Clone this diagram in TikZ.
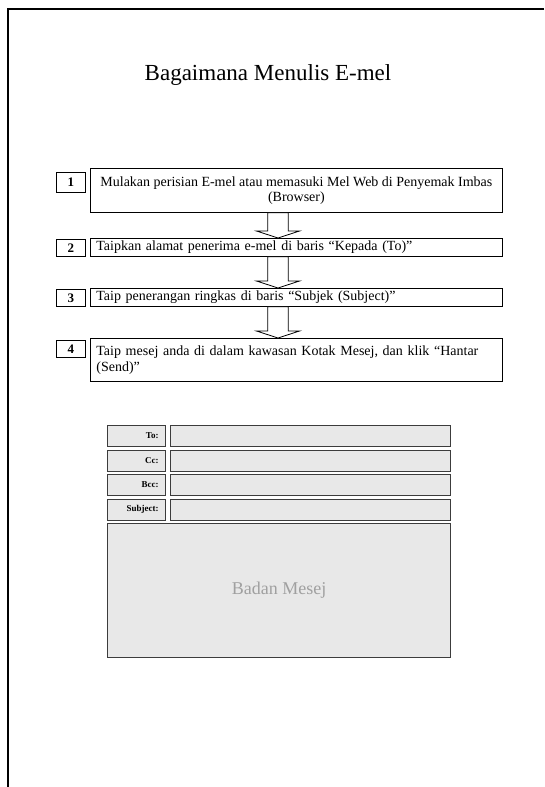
\documentclass[tikz,border=0pt]{standalone}
\usepackage{fontspec}
\setmainfont{Liberation Serif}
\usetikzlibrary{calc}
\definecolor{formfill}{HTML}{E8E8E8}
\definecolor{formline}{HTML}{3C3C3C}
\definecolor{bodytext}{HTML}{A0A0A0}

% hollow block arrow from the bottom of one step box to the top of the next
\newcommand{\flowarrow}[2]{%
  \coordinate (fa-top) at (#1.south -| ax);
  \coordinate (fa-tip) at (#2.north -| ax);
  \draw[blockarrow] ($(fa-top)+(-10.3,0)$) -- ($(fa-tip)+(-10.3,7)$)
    -- ($(fa-tip)+(-21.5,7)$) -- (fa-tip) -- ($(fa-tip)+(21.5,7)$)
    -- ($(fa-tip)+(10.3,7)$) -- ($(fa-top)+(10.3,0)$) -- cycle;}

\tikzset{
  stepbox/.style={draw, line width=0.8pt, fill=white, anchor=north west,
    font=\fontsize{14}{15.5}\selectfont, inner xsep=6pt, inner ysep=2pt,
    minimum width=412pt},
  stepleft/.style={stepbox, text width=400pt, align=left},
  numbox/.style={draw, line width=0.8pt, fill=white, anchor=north west,
    font=\bfseries\fontsize{13}{14}\selectfont, inner sep=0pt,
    minimum width=29pt},
  blockarrow/.style={draw, line width=0.8pt, fill=white, line join=miter},
  formbox/.style={draw=formline, fill=formfill, line width=1.2pt,
    anchor=north west, minimum height=21pt, inner sep=0pt},
  labelbox/.style={formbox, inner xsep=7pt, text width=44pt, align=right,
    minimum width=58pt, font=\bfseries\fontsize{9}{10}\selectfont},
  fieldbox/.style={formbox, minimum width=280pt},
  bodybox/.style={formbox, minimum width=343pt, minimum height=134pt,
    text=bodytext, font=\fontsize{18}{20}\selectfont},
  framerule/.style={line width=2.5pt},
}

\begin{document}
\begin{tikzpicture}[x=1pt, y=1pt]
\useasboundingbox (0,0) rectangle (544,-787);

% page frame
\draw[framerule] (544,-9) -- (8,-9) -- (8,-787);

% title
\node[anchor=base, font=\fontsize{23}{26}\selectfont] (title) at (268,-80)
  {Bagaimana Menulis E-mel};

% steps
\coordinate (ax) at (278,0);
\node[stepbox, align=center, minimum height=44pt] (s1) at (90,-168)
  {Mulakan perisian E-mel atau memasuki Mel Web di Penyemak Imbas\\(Browser)};
\node[stepleft, minimum height=18pt] (s2) at (90,-238)
  {Taipkan alamat penerima e-mel di baris “Kepada (To)”};
\node[stepleft, minimum height=18pt] (s3) at (90,-288)
  {Taip penerangan ringkas di baris “Subjek (Subject)”};
\node[stepleft, minimum height=43pt] (s4) at (90,-338)
  {Taip mesej anda di dalam kawasan Kotak Mesej, dan klik “Hantar\\(Send)”};

\node[numbox, minimum height=20pt] (n1) at (56,-172) {1};
\node[numbox, minimum height=17pt] (n2) at (56,-239) {2};
\node[numbox, minimum height=17pt] (n3) at (56,-289) {3};
\node[numbox, minimum height=17pt] (n4) at (56,-340) {4};

\flowarrow{s1}{s2}
\flowarrow{s2}{s3}
\flowarrow{s3}{s4}

% e-mail form
\node[labelbox] (lto) at (107,-425) {To:};
\node[labelbox] (lcc) at (107,-449.5) {Cc:};
\node[labelbox] (lbcc) at (107,-474) {Bcc:};
\node[labelbox] (lsub) at (107,-498.5) {Subject:};
\node[fieldbox] (fto) at (170,-425) {};
\node[fieldbox] (fcc) at (170,-449.5) {};
\node[fieldbox] (fbcc) at (170,-474) {};
\node[fieldbox] (fsub) at (170,-498.5) {};
\node[bodybox] (body) at (107,-523) {Badan Mesej};
\end{tikzpicture}
\end{document}
